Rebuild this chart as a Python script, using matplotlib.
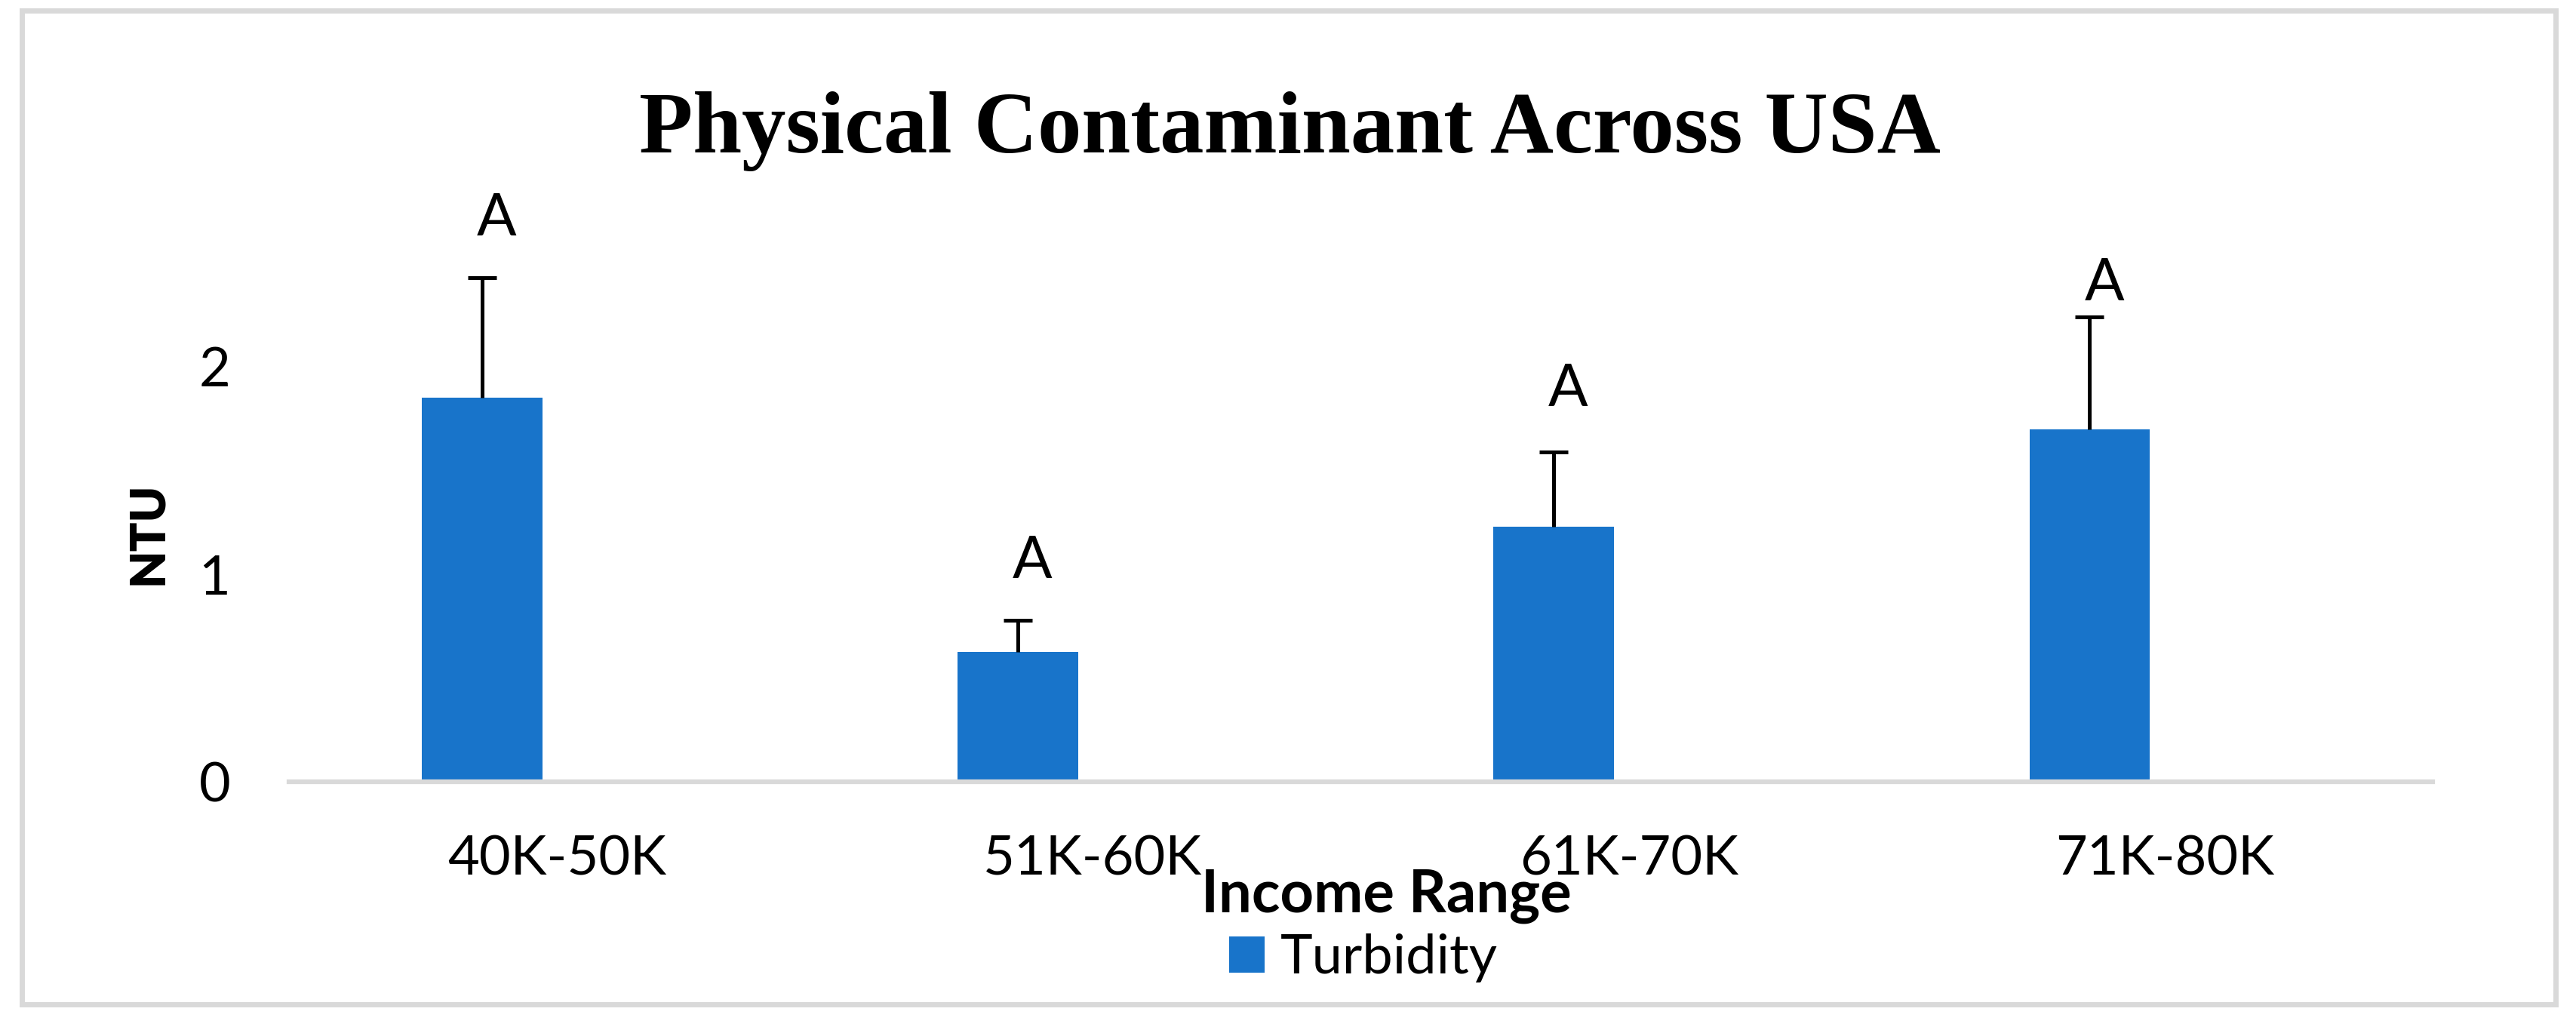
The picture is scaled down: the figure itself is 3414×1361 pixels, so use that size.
import matplotlib
matplotlib.use("Agg")
import matplotlib.pyplot as plt
from matplotlib.patches import Rectangle

# ---- data ----
categories = ["40K-50K", "51K-60K", "61K-70K", "71K-80K"]
turbidity = [1.85, 0.625, 1.23, 1.70]
turbidity_err = [0.58, 0.155, 0.36, 0.54]
letters = ["A", "A", "A", "A"]
letter_y = [2.71, 1.06, 1.89, 2.40]
yticks = [0, 1, 2]

W, H = 3414, 1361
DPI = 100
fig = plt.figure(figsize=(W / DPI, H / DPI), dpi=DPI)
fig.patch.set_facecolor("white")

SANS = ["Lato", "DejaVu Sans"]
SERIF = ["Liberation Serif", "DejaVu Serif"]

# axes placement (pixels -> figure fraction)
ax_left, ax_right = 383, 3224
y_base = 1036
unit_px = 275
ymax = 2.8
ax_top = y_base - ymax * unit_px
ax = fig.add_axes([ax_left / W, 1 - y_base / H, (ax_right - ax_left) / W, (y_base - ax_top) / H])

x = list(range(len(categories)))
bar_x = [i - 0.14 for i in x]
bar_color = "#1874CA"
bars = ax.bar(bar_x, turbidity, width=0.225, color=bar_color, label="Turbidity", zorder=2)
eb = ax.errorbar(bar_x, turbidity, yerr=[[0] * len(turbidity), turbidity_err], fmt="none",
                 ecolor="black", elinewidth=3.6, capsize=14, capthick=3.6, zorder=3)
# only the upper cap is shown (plus-direction error bar)
eb[1][0].set_visible(False)

for xi, yl, t in zip(bar_x, letter_y, letters):
    ax.text(xi + 0.027, yl, t, ha="center", va="center", fontsize=56,
            family=SANS, color="black", clip_on=False)

ax.set_xlim(-0.5, 3.5)
ax.set_ylim(0, ymax)
ax.set_xticks(x)
ax.set_xticklabels(categories, fontsize=52, family=SANS)
ax.set_yticks(yticks)
ax.set_yticklabels([str(v) for v in yticks], fontsize=52, family=SANS)
ax.tick_params(axis="both", length=0)
ax.tick_params(axis="x", pad=51)
ax.tick_params(axis="y", pad=56)
for s in ["top", "right", "left"]:
    ax.spines[s].set_visible(False)
ax.spines["bottom"].set_color("#D9D9D9")
ax.spines["bottom"].set_linewidth(4.5)
ax.spines["bottom"].set_zorder(4)
ax.patch.set_alpha(0)

# title
fig.text(1709 / W, 1 - 202 / H, "Physical Contaminant Across USA", ha="center", va="baseline",
         fontsize=84, fontweight="bold", family=SERIF)

# axis titles
fig.text(196 / W, 1 - 707 / H, "NTU", rotation=90, ha="center", va="center",
         fontsize=46, fontweight="heavy", family=SANS)
fig.text(1837 / W, 1 - 1188 / H, "Income Range", ha="center", va="center",
         fontsize=56, fontweight="bold", family=SANS)

# legend
leg = fig.legend(handles=[bars], labels=["Turbidity"], loc="center",
                 bbox_to_anchor=(1807 / W, 1 - 1270 / H), frameon=False,
                 prop={"family": SANS, "size": 52}, handlelength=0.65, handleheight=0.65,
                 handletextpad=0.3, borderpad=0, borderaxespad=0)

# outer border
fig.patches.append(Rectangle((28.5 / W, 1 - 1330.5 / H), (3386.5 - 28.5) / W, (1330.5 - 13.5) / H,
                             transform=fig.transFigure, fill=False, edgecolor="#D9D9D9",
                             linewidth=5, zorder=0))

fig.savefig("out.png", dpi=DPI, facecolor="white")
